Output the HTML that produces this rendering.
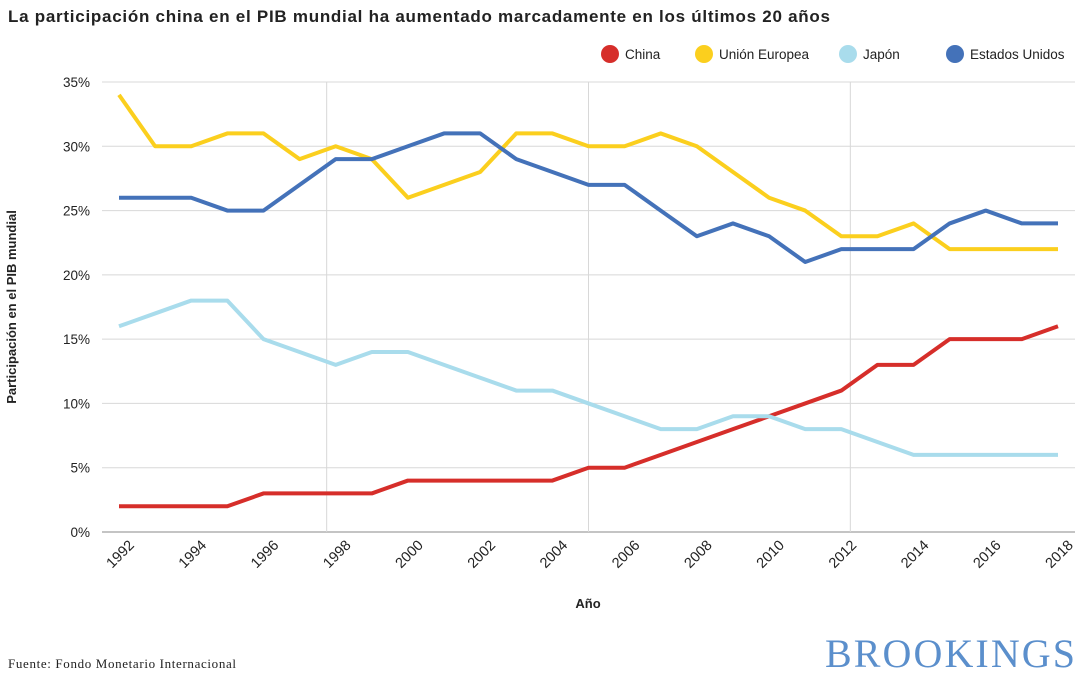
<!DOCTYPE html>
<html><head><meta charset="utf-8">
<style>
body{margin:0;background:#fff;width:1080px;height:680px;overflow:hidden;font-family:"Liberation Sans",sans-serif;}
svg text{font-family:"Liberation Sans",sans-serif;}
</style></head>
<body>
<svg width="1080" height="680">
<text x="8" y="22" font-size="17" font-weight="bold" fill="#222" textLength="822">La participación china en el PIB mundial ha aumentado marcadamente en los últimos 20 años</text>
<g id="legend"></g>
<g id="grid"></g>
<g id="axes"></g>
<g id="series"></g>
<text transform="translate(16,307) rotate(-90)" text-anchor="middle" font-size="13" font-weight="bold" fill="#222">Participación en el PIB mundial</text>
<text x="588" y="608" text-anchor="middle" font-size="13" font-weight="bold" fill="#222">Año</text>
<text x="8" y="668" font-size="13" fill="#222" textLength="228" style="font-family:'Liberation Serif',serif">Fuente: Fondo Monetario Internacional</text>
<text x="1075" y="667" text-anchor="end" font-size="40" fill="#5b8fcc" style="font-family:'Liberation Serif',serif" textLength="250">BROOKINGS</text>
</svg>
<script>
const years=[1992,1993,1994,1995,1996,1997,1998,1999,2000,2001,2002,2003,2004,2005,2006,2007,2008,2009,2010,2011,2012,2013,2014,2015,2016,2017,2018];
const china=[2,2,2,2,3,3,3,3,4,4,4,4,4,5,5,6,7,8,9,10,11,13,13,15,15,15,16];
const eu=[34,30,30,31,31,29,30,29,26,27,28,31,31,30,30,31,30,28,26,25,23,23,24,22,22,22,22];
const japan=[16,17,18,18,15,14,13,14,14,13,12,11,11,10,9,8,8,9,9,8,8,7,6,6,6,6,6];
const us=[26,26,26,25,25,27,29,29,30,31,31,29,28,27,27,25,23,24,23,21,22,22,22,24,25,24,24];
const yTicks=[0,5,10,15,20,25,30,35];
const xTicks=[1992,1994,1996,1998,2000,2002,2004,2006,2008,2010,2012,2014,2016,2018];
const vGrid=[1997.75,2005,2012.25];
const NS="http://www.w3.org/2000/svg";
const x=v=>119+(v-1992)*(1058-119)/26;
const y=v=>532-v*(450/35);
function mk(t,a,p){const e=document.createElementNS(NS,t);for(const k in a)e.setAttribute(k,a[k]);p.appendChild(e);return e;}
const grid=document.getElementById('grid'),axes=document.getElementById('axes'),ser=document.getElementById('series'),leg=document.getElementById('legend');
yTicks.forEach(t=>{
 const l=mk('line',{x1:102,x2:1075,y1:y(t),y2:y(t),stroke:t===0?'#888':'#d8d8d8','stroke-width':1},grid);
 
 
 const tx=mk('text',{x:90,y:y(t)+5,'text-anchor':'end','font-size':13.5,fill:'#222'},axes);
 tx.textContent=t+'%';
 
 
});
vGrid.forEach(v=>{
 const l=mk('line',{x1:x(v),x2:x(v),y1:82,y2:532,stroke:'#d8d8d8','stroke-width':1},grid);
 
 
});
xTicks.forEach(t=>{
 const tx=mk('text',{transform:`translate(${x(t)+16},${546}) rotate(-45)`,'text-anchor':'end','font-size':14.5,fill:'#222'},axes);
 tx.textContent=t;
 
 
});
const series=[['China',china,'#d62e2a','china-line'],['Unión Europea',eu,'#fbcf1e','eu-line'],['Japón',japan,'#a9dcec','japan-line'],['Estados Unidos',us,'#4472b9','us-line']];
series.forEach(s=>{
 const p=mk('polyline',{points:s[1].map((v,i)=>x(years[i])+','+y(v)).join(' '),fill:'none',stroke:s[2],'stroke-width':4,'stroke-linejoin':'round'},ser);
 
 
});
const lx=[610,704,848,955];
series.forEach((s,i)=>{
 const c=mk('circle',{cx:lx[i],cy:54,r:9,fill:s[2]},leg);
 
 
 const t=mk('text',{x:lx[i]+15,y:59,'font-size':13.5,fill:'#222'},leg);
 t.textContent=s[0];
 
 
});
</script>
</body></html>
